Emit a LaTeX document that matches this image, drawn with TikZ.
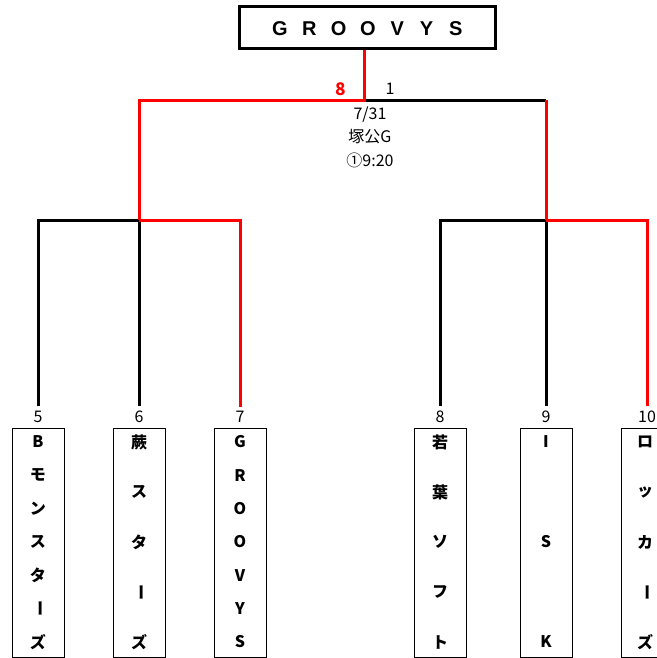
\documentclass[tikz,border=0pt]{standalone}
\usepackage{fontspec}
\usepackage{graphicx}
\setmainfont{Noto Sans CJK JP}
\newfontfamily\arialfont{Liberation Sans}
\usetikzlibrary{positioning}
% long vowel mark set upright for vertical writing
\newcommand{\chou}{\rotatebox[origin=c]{-90}{ー}}

\begin{document}
\begin{tikzpicture}[%
	x=0.75pt, y=-0.75pt,        % one unit is one pixel of the sheet
	every node/.style={font=\fontsize{12}{14}\selectfont},
	]
	% -------------------------------------------------
	% Styles for boxes, labels and bracket lines
	\tikzset{
		champ/.style={draw, line width=2.25pt, minimum width=192pt, minimum height=32pt},
		team/.style={draw, line width=0.75pt, minimum width=39pt, minimum height=172pt, inner sep=0pt},
		num/.style={inner sep=3pt},
		chr/.style={inner sep=0pt, font=\bfseries\fontsize{12}{12}\selectfont},
		big/.style={inner sep=0pt, font=\arialfont\bfseries\fontsize{15}{15}\selectfont},
		win/.style={draw=red, line width=2.25pt},
		lose/.style={draw=black, line width=2.25pt}
	}
	\useasboundingbox (0,0) rectangle (657,658);

	% winner on top
	\node[champ]	(w)	at (367.5,27.5)	{};
	\foreach \c [count=\i] in {G,R,O,O,V,Y,S}
		\node[big]	(w\i)	at ({280+29.3*(\i-1)},29)	{\c};

	% team boxes
	\node[team]	(t5)	at (38,543)		{};
	\node[team]	(t6)	at (139,543)	{};
	\node[team]	(t7)	at (240,543)	{};
	\node[team]	(t8)	at (440,543)	{};
	\node[team]	(t9)	at (546,543)	{};
	\node[team]	(t10)	at (647,543)	{};

	\node[num, above=1pt of t5]		(n5)	{5};
	\node[num, above=1pt of t6]		(n6)	{6};
	\node[num, above=1pt of t7]		(n7)	{7};
	\node[num, above=1pt of t8]		(n8)	{8};
	\node[num, above=1pt of t9]		(n9)	{9};
	\node[num, above=1pt of t10]	(n10)	{10};

	% names written top to bottom
	\foreach \c [count=\i] in {B,モ,ン,ス,タ,\chou,ズ}
		\node[chr]	(c5\i)	at ({38},{442+(\i-1)*200/6})	{\c};
	\foreach \c [count=\i] in {蕨,ス,タ,\chou,ズ}
		\node[chr]	(c6\i)	at ({139},{442+(\i-1)*50})	{\c};
	\foreach \c [count=\i] in {G,R,O,O,V,Y,S}
		\node[chr]	(c7\i)	at ({240},{442+(\i-1)*200/6})	{\c};
	\foreach \c [count=\i] in {若,葉,ソ,フ,ト}
		\node[chr]	(c8\i)	at ({440},{442+(\i-1)*50})	{\c};
	\foreach \c [count=\i] in {I,S,K}
		\node[chr]	(c9\i)	at ({546},{442+(\i-1)*100})	{\c};
	\foreach \c [count=\i] in {ロ,ッ,カ,\chou,ズ}
		\node[chr]	(c10\i)	at ({645},{442+(\i-1)*50})	{\c};

	% final: score and date
	\node[chr, red, font=\bfseries\fontsize{13}{13}\selectfont]	(s1)	at (341,89)	{8};
	\node[inner sep=0pt]	(s2)	at (390,89)	{1};
	\node[align=center, font=\fontsize{12}{17.6}\selectfont]	(info)	at (370,137)	{7/31\\塚公G\\①9:20};

	% joints of the bracket
	\coordinate (f)		at (364,100);
	\coordinate (fl)	at (139,100);
	\coordinate (fr)	at (546,100);
	\coordinate (sl)	at (139,220);
	\coordinate (sr)	at (546,220);

	\draw[lose] (f) -- (fr);
	\draw[lose] (n5) |- (sl) -- (n6);
	\draw[lose] (n8) |- (sr) -- (n9);

	\draw[win] (f |- w.south) -- (f) -- (fl) -- (sl);
	\draw[win] (fr) -- (sr);
	\draw[win] (sl) -| (n7);
	\draw[win] (sr) -| (n10);

\end{tikzpicture}
\end{document}
